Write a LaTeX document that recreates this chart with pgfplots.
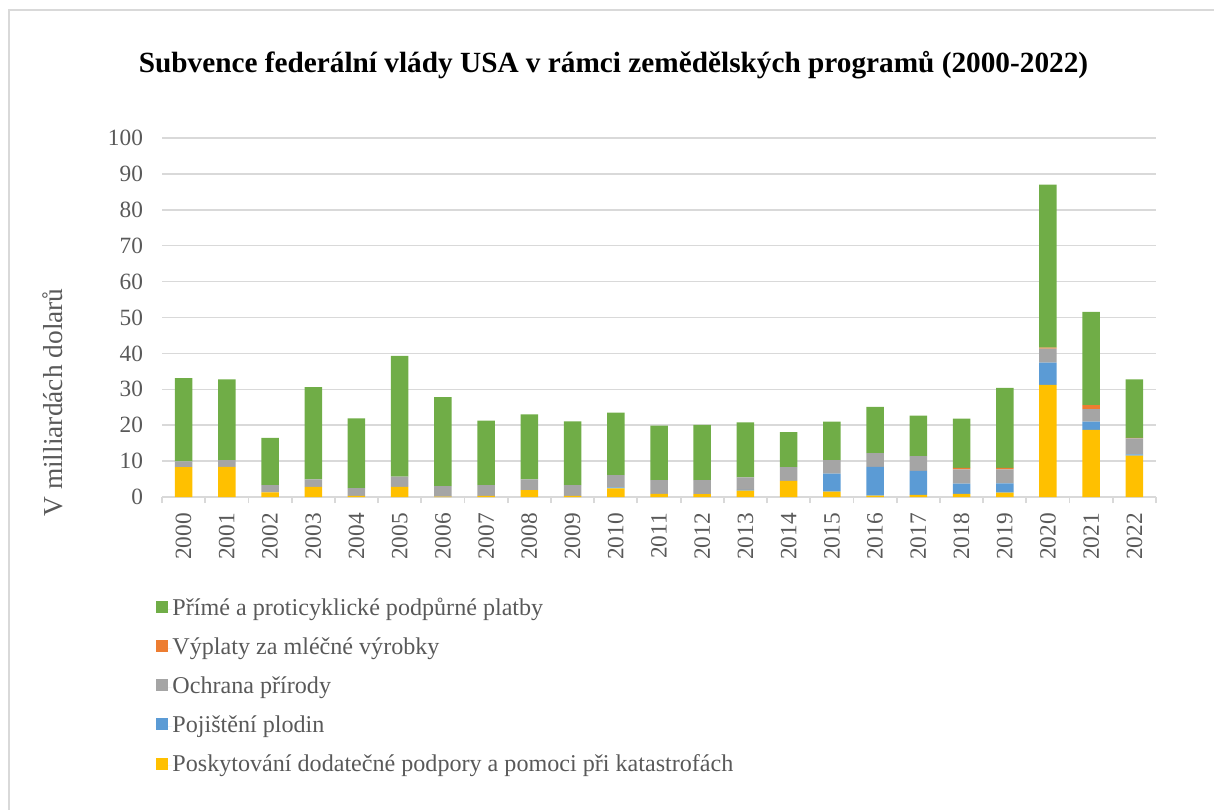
\documentclass[border=0pt]{standalone}
\usepackage{fontspec}
\setmainfont{Liberation Serif}
\usepackage{pgfplots}
\usepackage{pgfplotstable}
\pgfplotsset{compat=1.18}
\definecolor{cGreen}{HTML}{70AD47}
\definecolor{cOrange}{HTML}{ED7D31}
\definecolor{cGray}{HTML}{A5A5A5}
\definecolor{cBlue}{HTML}{5B9BD5}
\definecolor{cYellow}{HTML}{FFC000}
\definecolor{cText}{HTML}{595959}
\definecolor{cGrid}{HTML}{D9D9D9}
\pgfplotstableread{
x Y B G O Gr
0 8.3 0 1.6 0 23.2
1 8.4 0 1.9 0 22.5
2 1.3 0 2.0 0 13.2
3 2.8 0 2.1 0 25.7
4 0.3 0 2.2 0 19.4
5 2.8 0 2.9 0 33.6
6 0.1 0 2.9 0 24.8
7 0.3 0 3.0 0 18.0
8 1.9 0 3.0 0 18.1
9 0.3 0 3.0 0 17.8
10 2.4 0.3 3.4 0 17.4
11 0.9 0 3.8 0 15.2
12 0.8 0 3.9 0 15.4
13 1.8 0.2 3.5 0 15.3
14 4.5 0 3.8 0 9.8
15 1.5 5.0 3.8 0 10.7
16 0.4 8.0 3.8 0 12.9
17 0.6 6.7 4.1 0 11.3
18 0.9 2.8 4.0 0.4 13.7
19 1.2 2.6 3.9 0.4 22.3
20 31.2 6.2 3.9 0.3 45.4
21 18.7 2.3 3.5 1.1 26.0
22 11.5 0.4 4.4 0.2 16.3
}\datatable
\begin{document}
\begin{tikzpicture}
\path[use as bounding box] (0pt,0pt) rectangle (607pt,404.5pt);
\draw[cGrid, line width=0.9pt] (4.5pt,-1pt) -- (4.5pt,399.5pt) -- (608pt,399.5pt);
\node[anchor=base, font=\fontsize{14.64}{17}\selectfont\bfseries, text=black, inner sep=0pt]
  at (306.75pt,368pt) {Subvence federální vlády USA v rámci zemědělských programů (2000-2022)};
\node[rotate=90, font=\fontsize{13.7}{16}\selectfont, text=cText, inner sep=0pt]
  at (26.5pt,203.25pt) {V milliardách dolarů};
\begin{axis}[
  at={(81pt,156pt)}, anchor=south west,
  scale only axis, width=497pt, height=179.5pt,
  ybar stacked, bar width=8.75pt,
  xmin=-0.5, xmax=22.5, ymin=0, ymax=100,
  xtick={0,...,22},
  xticklabels={2000,2001,2002,2003,2004,2005,2006,2007,2008,2009,2010,2011,2012,2013,2014,2015,2016,2017,2018,2019,2020,2021,2022},
  minor xtick={-0.5,0.5,...,22.5},
  ytick={0,10,...,100},
  axis x line*=bottom, axis y line*=left,
  x axis line style={draw=cGrid, line width=0.9pt},
  y axis line style={draw=none},
  tick align=outside,
  major tick length=0pt,
  minor tick length=3pt,
  minor x tick style={draw=cGrid, line width=0.9pt},
  ymajorgrids, major grid style={draw=cGrid, line width=0.75pt},
  /pgf/number format/assume math mode=true,
  ticklabel style={font=\fontsize{11.65}{14}\selectfont, text=cText},
  yticklabel style={xshift=-6pt},
  xticklabel style={rotate=90, anchor=east, xshift=-4.5pt},
  every axis plot/.append style={draw=none},
  legend style={at={(-0.00604,-0.28134)}, anchor=north west, draw=none, fill=none,
    inner sep=0pt, outer sep=0pt, row sep=8.6pt,
    font=\fontsize{12.05}{14}\selectfont, text=cText,
    nodes={inner sep=0pt, text height=8.5pt, text depth=2.5pt}},
  legend cell align=left,
  reverse legend,
  legend image code/.code={\fill[#1] (0pt,-1.85pt) rectangle (6pt,4.15pt); \path (0pt,0pt) -- (8.25pt,0pt);},
]
\addplot[fill=cYellow] table[x=x,y=Y]{\datatable};
\addplot[fill=cBlue] table[x=x,y=B]{\datatable};
\addplot[fill=cGray] table[x=x,y=G]{\datatable};
\addplot[fill=cOrange] table[x=x,y=O]{\datatable};
\addplot[fill=cGreen] table[x=x,y=Gr]{\datatable};
\legend{Poskytování dodatečné podpory a pomoci při katastrofách, Pojištění plodin, Ochrana přírody, Výplaty za mléčné výrobky, Přímé a proticyklické podpůrné platby}
\end{axis}
\end{tikzpicture}
\end{document}
